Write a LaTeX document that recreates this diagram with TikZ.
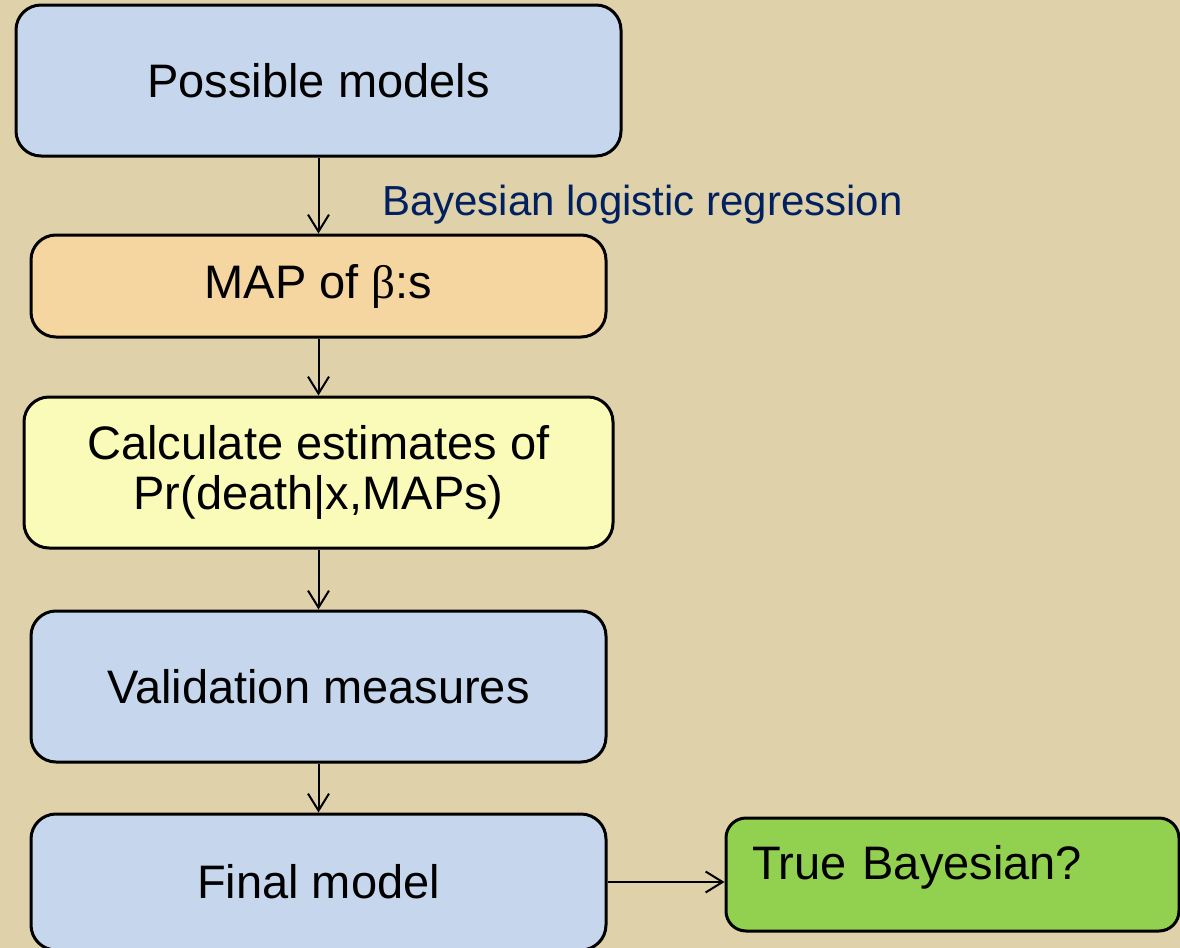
\documentclass[tikz,border=0pt]{standalone}
\usepackage{fontspec}
\setmainfont{Liberation Sans}
\newfontfamily\greekfont{Liberation Serif}
\usetikzlibrary{arrows.meta}

\definecolor{bgtan}{RGB}{223,209,170}
\definecolor{boxblue}{RGB}{198,214,236}
\definecolor{boxorange}{RGB}{245,213,160}
\definecolor{boxyellow}{RGB}{250,251,184}
\definecolor{boxgreen}{RGB}{146,208,80}
\definecolor{labelnavy}{RGB}{0,32,96}

\tikzset{
    stage/.style={draw=black, line width=1.5pt, rounded corners=12.5pt,
        align=center, font=\fontsize{23.5}{25}\selectfont},
    flow/.style={-{Straight Barb[length=8.5pt,width=10.5pt]}, line width=1pt},
}

\begin{document}
\begin{tikzpicture}[x=0.5pt, y=-0.5pt]
    \useasboundingbox (0, 0) rectangle (1180, 948);
    \fill[bgtan] (0, 0) rectangle (1180, 948);

    \node[stage, fill=boxblue, minimum width=302.5pt, minimum height=75.5pt]
        (models) at (318.5, 80.5) {Possible models};
    \node[stage, fill=boxorange, minimum width=287.5pt, minimum height=51pt]
        (map) at (318.5, 286) {MAP of {\greekfont β}:s};
    \node[stage, fill=boxyellow, minimum width=294.5pt, minimum height=75.5pt]
        (estimates) at (318.5, 472.5) {Calculate estimates of\\Pr(death|x,MAPs)};
    \node[stage, fill=boxblue, minimum width=287.5pt, minimum height=75.5pt]
        (validation) at (318.5, 686.5) {Validation measures};
    \node[stage, fill=boxblue, minimum width=287.5pt, minimum height=68pt]
        (final) at (318.5, 882) {Final model};
    \node[stage, fill=boxgreen, rounded corners=10pt, align=left,
        text width=200.5pt, inner xsep=13pt, inner ysep=0pt,
        text height=30.5pt, text depth=26pt]
        (truebayes) at (952.5, 874.5) {True Bayesian?};

    \draw[flow] (models) -- node[anchor=west, xshift=28pt, yshift=-4.5pt,
        text=labelnavy, font=\fontsize{21}{24}\selectfont]
        {Bayesian logistic regression} (map);
    \draw[flow] (map) -- (estimates);
    \draw[flow] (estimates) -- (validation);
    \draw[flow] (validation) -- (final);
    \draw[flow] (final.east) -- (final.east -| truebayes.west);
\end{tikzpicture}
\end{document}
